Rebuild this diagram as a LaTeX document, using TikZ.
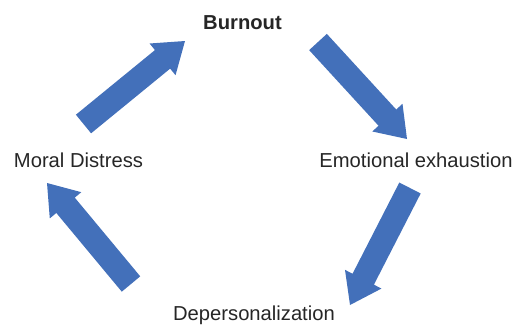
\documentclass[tikz,border=0pt]{standalone}
\usepackage{fontspec}
\setmainfont{Liberation Sans}
\usetikzlibrary{calc}
\definecolor{arrowblue}{RGB}{67,112,186}
% block arrow from #1 (tail) to #2 (tip)
\newcommand{\fatarrow}[2]{%
  \coordinate (hb) at ($(#2)!29pt!(#1)$);
  \fill[arrowblue] ($(#1)!12pt!90:(#2)$) -- ($(hb)!12pt!90:(#2)$) -- ($(hb)!20.5pt!90:(#2)$)
    -- (#2) -- ($(hb)!20.5pt!-90:(#2)$) -- ($(hb)!12pt!-90:(#2)$) -- ($(#1)!12pt!-90:(#2)$) -- cycle;}
\begin{document}
\begin{tikzpicture}[x=1pt,y=-1pt,
  lbl/.style={anchor=base,inner sep=0pt,text=black!85,font=\fontsize{20.2}{24}\selectfont}]
\useasboundingbox (0,0) rectangle (528,325);
\node[lbl,font=\fontsize{20.2}{24}\selectfont\bfseries] (burnout) at (242.5,29) {Burnout};
\node[lbl] (exhaustion) at (416,167) {Emotional exhaustion};
\node[lbl] (depers) at (254,320.5) {Depersonalization};
\node[lbl] (distress) at (78.5,167) {Moral Distress};
\coordinate (t1) at (83.5,124); \coordinate (h1) at (185,41);
\coordinate (t2) at (318,42); \coordinate (h2) at (407,139);
\coordinate (t3) at (410,188); \coordinate (h3) at (350,305);
\coordinate (t4) at (131,284); \coordinate (h4) at (47,183);
\foreach \i in {1,2,3,4}{\fatarrow{t\i}{h\i}}
\end{tikzpicture}
\end{document}
